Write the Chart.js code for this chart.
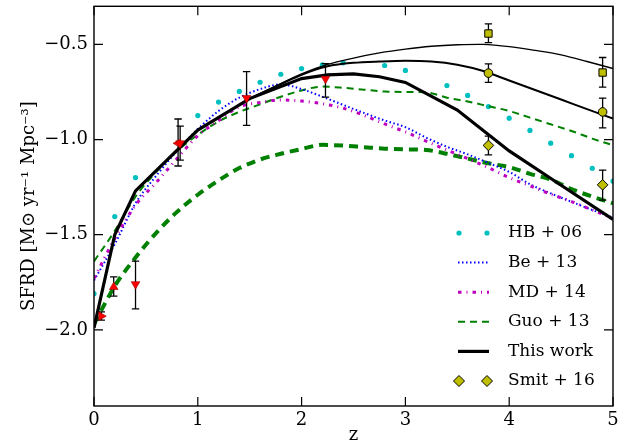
<!DOCTYPE html>
<html>
<head>
<meta charset="utf-8">
<script src="https://cdn.jsdelivr.net/npm/chart.js@4.4.1/dist/chart.umd.min.js"></script>
<style>
  html, body { margin: 0; background: #fff; }
</style>
</head>
<body>
<canvas id="chart" width="638" height="447"></canvas>
<script>
"use strict";

// tick labels
const xTicks = [0, 1, 2, 3, 4, 5];
const yTicks = [-2.0, -1.5, -1.0, -0.5];

// HB+06 (cyan dots)
const hbZ = [0, 0.2, 0.4, 1.0, 1.2, 1.4, 1.6, 1.8, 2.0, 2.2, 2.4, 2.8, 3.0, 3.4, 3.6, 3.8, 4.0, 4.2, 4.4, 4.6, 4.8, 5.0];
const hbV = [-1.81, -1.405, -1.20, -0.874, -0.803, -0.747, -0.699, -0.657, -0.627, -0.608, -0.597, -0.611, -0.637, -0.716, -0.768, -0.827, -0.888, -0.952, -1.019, -1.085, -1.151, -1.219];

// common z grid for the model curves
const zGrid = [0, 0.2, 0.4, 0.6, 0.8, 1.0, 1.2, 1.4, 1.6, 1.8, 2.0, 2.2, 2.4, 2.6, 2.8, 3.0, 3.2, 3.4, 3.6, 3.8, 4.0, 4.2, 4.4, 4.6, 4.8, 5.0];
const beV = [-1.74, -1.55, -1.335, -1.19, -1.06, -0.945, -0.85, -0.78, -0.735, -0.71, -0.735, -0.775, -0.818, -0.86, -0.90, -0.935, -0.99, -1.038, -1.078, -1.123, -1.17, -1.235, -1.283, -1.327, -1.37, -1.41];
const mdV = [-1.73, -1.52, -1.345, -1.225, -1.10, -0.98, -0.90, -0.828, -0.805, -0.792, -0.798, -0.812, -0.835, -0.873, -0.918, -0.96, -1.008, -1.055, -1.10, -1.148, -1.20, -1.243, -1.287, -1.326, -1.37, -1.415];
const guoV = [-1.64, -1.48, -1.30, -1.17, -1.06, -0.975, -0.905, -0.855, -0.815, -0.775, -0.742, -0.722, -0.728, -0.738, -0.748, -0.75, -0.752, -0.78, -0.80, -0.825, -0.85, -0.885, -0.92, -0.955, -0.995, -1.03];
const guoLowV = [-1.97, -1.77, -1.62, -1.49, -1.38, -1.29, -1.215, -1.15, -1.105, -1.075, -1.05, -1.028, -1.032, -1.04, -1.048, -1.052, -1.055, -1.075, -1.10, -1.125, -1.145, -1.18, -1.21, -1.26, -1.30, -1.335];

// This work (three black curves)
const workZ = [0, 0.2, 0.4, 0.7, 1.0, 1.5, 2.0, 2.25, 2.5, 2.75, 3.0, 3.5, 4.0, 4.5, 5.0];
const workV = [-1.99, -1.50, -1.27, -1.11, -0.95, -0.785, -0.68, -0.66, -0.655, -0.67, -0.70, -0.845, -1.06, -1.24, -1.42];
const workHiZ = [1.5, 2.0, 2.25, 2.5, 2.75, 3.0, 3.25, 3.5, 3.75, 4.0, 4.25, 4.5, 4.75, 5.0];
const workMidV = [-0.785, -0.66, -0.615, -0.597, -0.59, -0.586, -0.59, -0.607, -0.64, -0.69, -0.74, -0.79, -0.84, -0.89];
const workTopV = [-0.785, -0.655, -0.605, -0.572, -0.545, -0.525, -0.51, -0.502, -0.50, -0.512, -0.532, -0.555, -0.59, -0.627];

// red observational points with error bars
const obsZ = [0.07, 0.19, 0.40, 0.81, 0.83, 1.47, 2.23];
const obsV = [-1.928, -1.775, -1.76, -1.02, -1.02, -0.782, -0.681];
const obsLo = [-1.949, -1.823, -1.89, -1.139, -1.108, -0.926, -0.777];
const obsHi = [-1.905, -1.722, -1.639, -0.892, -0.93, -0.643, -0.601];
const obsRot = [90, 0, 180, 270, 180, 180, 180];

// Smit+16
const smitZ = [3.8, 4.9];
const smitDiaV = [-1.031, -1.238];
const smitDiaLo = [-1.081, -1.318];
const smitDiaHi = [-0.982, -1.161];
const smitCirV = [-0.651, -0.855];
const smitCirLo = [-0.70, -0.939];
const smitCirHi = [-0.602, -0.782];
const smitSqV = [-0.443, -0.648];
const smitSqLo = [-0.491, -0.725];
const smitSqHi = [-0.392, -0.569];

const legendLabels = ['HB + 06', 'Be + 13', 'MD + 14', 'Guo + 13', 'This work', 'Smit + 16'];

const FONT = 'DejaVu Serif';
const YEL = '#bfbf00';

function pts(zs, vs) {
  return zs.map((z, i) => ({x: z, y: vs[i]}));
}

function curve(label, zs, vs, color, width, dash, order, extra) {
  return Object.assign({
    label: label,
    data: pts(zs, vs),
    borderColor: color,
    backgroundColor: color,
    borderWidth: width,
    borderDash: dash,
    pointRadius: 0,
    pointHoverRadius: 0,
    fill: false,
    cubicInterpolationMode: 'monotone',
    order: order,
  }, extra || {});
}

function marks(label, zs, vs, style, color, radius, order, extra) {
  return Object.assign({
    label: label,
    data: pts(zs, vs),
    showLine: false,
    pointStyle: style,
    pointRadius: radius,
    pointHoverRadius: radius,
    pointBackgroundColor: color,
    pointBorderColor: '#000',
    pointBorderWidth: 1,
    order: order,
  }, extra || {});
}

const datasets = [
  marks('HB + 06', hbZ, hbV, 'circle', '#00bfbf', 2.6, 9, {pointBorderWidth: 0}),
  curve('Guo + 13 (low)', zGrid, guoLowV, '#008000', 4, [9, 6], 8),
  curve('Guo + 13', zGrid, guoV, '#008000', 2, [7, 5], 7),
  curve('Be + 13', zGrid, beV, '#0000ff', 2, [1.5, 2.5], 6),
  curve('MD + 14', zGrid, mdV, '#bf00bf', 3, [3.5, 5, 1, 5], 5),
  curve('This work (top)', workHiZ, workTopV, '#000', 1.3, [], 4, {cubicInterpolationMode: 'default', tension: 0.3}),
  curve('This work (mid)', workHiZ, workMidV, '#000', 2, [], 3, {cubicInterpolationMode: 'default', tension: 0.3}),
  curve('This work', workZ, workV, '#000', 3.2, [], 2, {cubicInterpolationMode: 'default', tension: 0}),
  marks('obs', obsZ, obsV, 'triangle', '#ff0000', 5, 1, {errLo: obsLo, errHi: obsHi, pointRotation: obsRot, pointBorderColor: '#900', pointBorderWidth: 0.6}),
  marks('Smit + 16 sq', smitZ, smitSqV, 'rect', YEL, 5.2, 0, {errLo: smitSqLo, errHi: smitSqHi}),
  marks('Smit + 16 circ', smitZ, smitCirV, 'circle', YEL, 4.3, 0, {errLo: smitCirLo, errHi: smitCirHi}),
  marks('Smit + 16', smitZ, smitDiaV, 'rectRot', YEL, 5.3, 0, {errLo: smitDiaLo, errHi: smitDiaHi}),
];

// error bars drawn just before the markers of their dataset
const errorBars = {
  id: 'errorBars',
  beforeDatasetDraw(chart, args) {
    const ds = chart.data.datasets[args.index];
    if (!ds.errLo) return;
    const ctx = chart.ctx, y = chart.scales.y;
    ctx.save();
    ctx.strokeStyle = '#000';
    ctx.lineWidth = 1.3;
    args.meta.data.forEach((p, i) => {
      const y0 = y.getPixelForValue(ds.errLo[i]);
      const y1 = y.getPixelForValue(ds.errHi[i]);
      ctx.beginPath();
      ctx.moveTo(p.x, y0); ctx.lineTo(p.x, y1);
      ctx.moveTo(p.x - 3.7, y0); ctx.lineTo(p.x + 3.7, y0);
      ctx.moveTo(p.x - 3.7, y1); ctx.lineTo(p.x + 3.7, y1);
      ctx.stroke();
    });
    ctx.restore();
  }
};

// frame with inward ticks on all four sides
const frame = {
  id: 'frame',
  afterDatasetsDraw(chart) {
    const {ctx, chartArea: a, scales: {x, y}} = chart;
    ctx.save();
    ctx.strokeStyle = '#000';
    ctx.lineWidth = 1.4;
    ctx.strokeRect(a.left, a.top, a.right - a.left, a.bottom - a.top);
    ctx.lineWidth = 1.2;
    ctx.beginPath();
    xTicks.forEach(v => {
      const px = x.getPixelForValue(v);
      ctx.moveTo(px, a.bottom); ctx.lineTo(px, a.bottom - 9);
      ctx.moveTo(px, a.top); ctx.lineTo(px, a.top + 9);
    });
    yTicks.forEach(v => {
      const py = y.getPixelForValue(v);
      ctx.moveTo(a.left, py); ctx.lineTo(a.left + 9, py);
      ctx.moveTo(a.right, py); ctx.lineTo(a.right - 9, py);
    });
    ctx.stroke();
    ctx.restore();
  }
};

// legend inside the plot, lower right
const innerLegend = {
  id: 'innerLegend',
  afterDraw(chart) {
    const ctx = chart.ctx;
    const a = chart.chartArea;
    const x0 = a.right - 155, x1 = x0 + 31, tx = x0 + 50;
    const top = a.bottom - 173, step = 29.6;
    const byLabel = l => chart.data.datasets.find(d => d.label === l);
    ctx.save();
    legendLabels.forEach((lab, i) => {
      const yy = top + i * step;
      const ds = byLabel(lab);
      if (ds.showLine === false) {
        [x0 + 1, x1 - 2].forEach(px => {
          ctx.beginPath();
          if (ds.pointStyle === 'rectRot') {
            const r = 5.5;
            ctx.moveTo(px, yy - r); ctx.lineTo(px + r, yy); ctx.lineTo(px, yy + r); ctx.lineTo(px - r, yy); ctx.closePath();
          } else {
            ctx.arc(px, yy, ds.pointRadius, 0, Math.PI * 2);
          }
          ctx.fillStyle = ds.pointBackgroundColor;
          ctx.fill();
          if (ds.pointBorderWidth) { ctx.lineWidth = 1; ctx.strokeStyle = '#000'; ctx.stroke(); }
        });
      } else {
        ctx.beginPath();
        ctx.setLineDash(ds.borderDash);
        ctx.lineWidth = ds.borderWidth;
        ctx.strokeStyle = ds.borderColor;
        ctx.moveTo(x0, yy); ctx.lineTo(x1, yy);
        ctx.stroke();
        ctx.setLineDash([]);
      }
      ctx.fillStyle = '#000';
      ctx.font = '17px "' + FONT + '"';
      ctx.textBaseline = 'middle';
      ctx.textAlign = 'left';
      ctx.fillText(lab, tx, yy);
    });
    ctx.restore();
  }
};

new Chart(document.getElementById('chart').getContext('2d'), {
  type: 'line',
  data: {datasets: datasets},
  options: {
    responsive: false,
    animation: false,
    events: [],
    layout: {padding: {left: 0, right: 25, top: 5, bottom: 0}},
    plugins: {legend: {display: false}, tooltip: {enabled: false}},
    scales: {
      x: {
        type: 'linear',
        min: 0,
        max: 5,
        afterBuildTicks: s => { s.ticks = xTicks.map(v => ({value: v})); },
        afterFit: s => { s.height = 41; s.paddingLeft = 0; s.paddingRight = 0; },
        grid: {display: false, drawTicks: false},
        border: {display: false},
        ticks: {color: '#000', font: {family: FONT, size: 18}, padding: 4, maxRotation: 0},
        title: {display: true, text: 'z', color: '#000', font: {family: FONT, size: 18}, padding: {top: 0, bottom: 1}},
      },
      y: {
        type: 'linear',
        min: -2.4,
        max: -0.3,
        afterBuildTicks: s => { s.ticks = yTicks.map(v => ({value: v})); },
        afterFit: s => { s.width = 94; s.paddingTop = 0; s.paddingBottom = 0; },
        grid: {display: false, drawTicks: false},
        border: {display: false},
        ticks: {
          color: '#000',
          font: {family: FONT, size: 18},
          padding: 6,
          callback: v => (v < 0 ? '\u2212' : '') + Math.abs(v).toFixed(1),
        },
        title: {display: true, text: 'SFRD [M\u2299 yr\u207B\u00B9 Mpc\u207B\u00B3]', color: '#000', font: {family: FONT, size: 18}, padding: {top: 19, bottom: 0}},
      },
    },
  },
  plugins: [errorBars, frame, innerLegend],
});
</script>
</body>
</html>
